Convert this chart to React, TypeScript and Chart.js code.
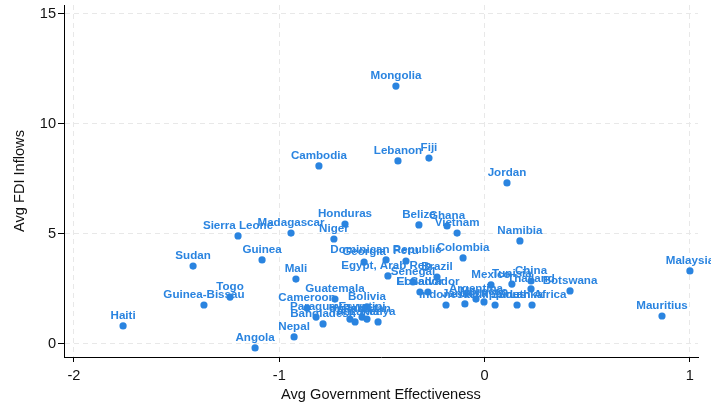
import React, { useEffect, useRef } from "react";
import { Chart, registerables } from "chart.js";

Chart.register(...registerables);

const countries: string[] = [
  "Haiti", "Sudan", "Guinea-Bissau", "Togo", "Sierra Leone", "Madagascar", "Guinea", "Mali",
  "Nepal", "Angola", "Honduras", "Niger", "Cambodia", "Mongolia", "Lebanon", "Fiji",
  "Jordan", "Belize", "Ghana", "Vietnam", "Namibia", "Colombia", "Malaysia", "Mauritius",
  "Botswana", "China", "Thailand", "Tunisia", "Mexico", "Dominican Republic", "Georgia", "Peru",
  "Egypt, Arab Rep.", "Brazil", "Senegal", "El Salvador", "Ecuador", "Indonesia", "Argentina", "Paraguay",
  "Philippines", "Morocco", "Sri Lanka", "South Africa", "Cameroon", "Guatemala", "Bolivia", "Eswatini",
  "Bangladesh", "Uganda", "Tanzania", "Kenya", "Jamaica", "Pakistan",
];

const govEffectiveness: number[] = [
  -1.761, -1.42, -1.367, -1.24, -1.201, -0.943, -1.084, -0.919,
  -0.928, -1.118, -0.68, -0.734, -0.807, -0.432, -0.422, -0.271,
  0.109, -0.32, -0.183, -0.134, 0.172, -0.105, 1.0, 0.864,
  0.416, 0.226, 0.226, 0.133, 0.031, -0.48, -0.587, -0.383,
  -0.471, -0.232, -0.349, -0.276, -0.315, -0.188, -0.042, -0.821,
  0.051, -0.003, 0.158, 0.231, -0.865, -0.729, -0.573, -0.597,
  -0.787, -0.656, -0.631, -0.519, -0.096, -0.573,
];

const fdiInflows: number[] = [
  0.8, 3.52, 1.75, 2.11, 4.89, 5.02, 3.8, 2.93,
  0.3, -0.2, 5.43, 4.75, 8.07, 11.7, 8.3, 8.43,
  7.3, 5.39, 5.34, 5.02, 4.66, 3.89, 3.3, 1.25,
  2.39, 2.84, 2.48, 2.7, 2.66, 3.8, 3.7, 3.75,
  3.07, 3.02, 2.8, 2.34, 2.34, 1.75, 2.02, 1.2,
  1.75, 1.89, 1.75, 1.75, 1.61, 2.02, 1.66, 1.2,
  0.89, 1.11, 0.98, 0.98, 1.8, 1.11,
];

const xTicks: number[] = [-2, -1, 0, 1];
const yTicks: number[] = [0, 5, 10, 15];

const BLUE = "#2a84e0";
const FONT = '"Liberation Sans", Arial, sans-serif';

const labelPlugin = {
  id: "pointLabels",
  afterDatasetsDraw(chart: any) {
    const ctx = chart.ctx;
    const meta = chart.getDatasetMeta(0);
    ctx.save();
    ctx.font = 'bold 11.6px "Liberation Sans", Arial, sans-serif';
    ctx.fillStyle = BLUE;
    ctx.textAlign = "center";
    ctx.textBaseline = "middle";
    meta.data.forEach((el: any, i: number) => {
      ctx.fillText(countries[i], el.x, el.y - 10);
    });
    ctx.restore();
  },
};

export default function App() {
  const ref = useRef<HTMLCanvasElement>(null);
  useEffect(() => {
    if (!ref.current) return;
    const data = govEffectiveness.map((x, i) => ({ x, y: fdiInflows[i] }));
    const chart = new Chart(ref.current, {
      type: "scatter",
      data: {
        datasets: [
          {
            data,
            backgroundColor: BLUE,
            borderWidth: 0,
            pointRadius: 3.6,
          },
        ],
      },
      options: {
        animation: false,
        responsive: false,
        devicePixelRatio: 1,
        layout: { padding: { top: 5, right: 13, left: 0, bottom: 0 } },
        plugins: { legend: { display: false }, tooltip: { enabled: false } },
        scales: {
          x: {
            type: "linear",
            min: -2.0487,
            max: 1.0394,
            afterBuildTicks: (s: any) => {
              s.ticks = xTicks.map((v) => ({ value: v }));
            },
            afterFit: (s: any) => {
              s.height = 51;
              s.paddingLeft = 0;
              s.paddingRight = 0;
            },
            grid: {
              color: "#e8e8e8",
              tickColor: "#000",
              tickLength: 5,
              tickBorderDash: [],
            } as any,
            border: { display: true, color: "#000", width: 1, dash: [5, 4] } as any,
            ticks: {
              autoSkip: false,
              maxRotation: 0,
              padding: 5,
              color: "#111",
              font: { family: FONT, size: 14.6 },
            },
            title: {
              display: true,
              text: "Avg Government Effectiveness",
              color: "#111",
              font: { family: FONT, size: 14.6 },
              padding: { top: 0, bottom: 4 },
            },
          },
          y: {
            type: "linear",
            min: -0.614,
            max: 15.386,
            afterBuildTicks: (s: any) => {
              s.ticks = yTicks.map((v) => ({ value: v }));
            },
            afterFit: (s: any) => {
              s.width = 64;
              s.paddingTop = 0;
              s.paddingBottom = 0;
            },
            grid: {
              color: "#e8e8e8",
              tickColor: "#000",
              tickLength: 6,
              tickBorderDash: [],
            } as any,
            border: { display: true, color: "#000", width: 1, dash: [5, 4] } as any,
            ticks: {
              autoSkip: false,
              padding: 2,
              color: "#111",
              font: { family: FONT, size: 14.6 },
            },
            title: {
              display: true,
              text: "Avg FDI Inflows",
              color: "#111",
              font: { family: FONT, size: 14.6 },
              padding: { top: 11, bottom: 0 },
            },
          },
        },
      },
      plugins: [labelPlugin],
    });
    return () => chart.destroy();
  }, []);
  return (
    <div style={{ position: "absolute", left: 0, top: 0, width: 711, height: 408 }}>
      <canvas ref={ref} width={711} height={408} />
    </div>
  );
}
